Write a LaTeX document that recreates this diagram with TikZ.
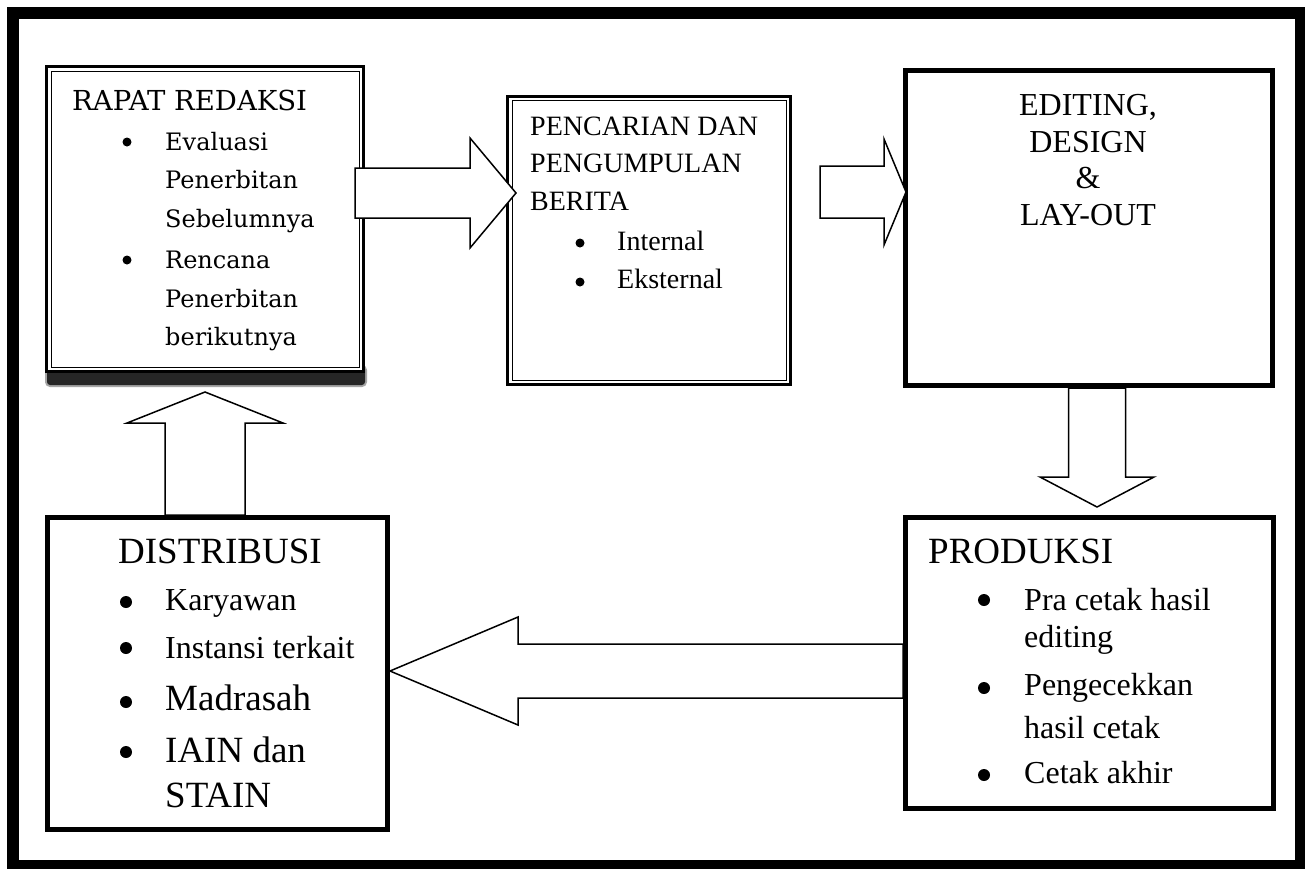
\documentclass[tikz,border=0pt]{standalone}
\usepackage{fontspec}
\setmainfont{Liberation Serif}
\newfontfamily\rapatfont{DejaVu Serif}
\usepackage{tikz}
\usetikzlibrary{calc}
\tikzset{box/.style={draw, line width=5pt, fill=white, inner sep=0pt},
         dblbox/.style={draw, line width=3pt, fill=white, inner sep=0pt},
         blockarrow/.style={draw, line width=1.5pt, fill=white, line join=miter},
         txt/.style={anchor=base west, inner sep=0pt, font=\fontsize{32}{38}\selectfont},
         bigtxt/.style={txt, font=\fontsize{37}{44}\selectfont},
         midtxt/.style={txt, font=\fontsize{28}{34}\selectfont},
         rtxt/.style={txt, font=\rapatfont\fontsize{24}{28}\selectfont},
         rtitle/.style={txt, font=\rapatfont\fontsize{27.5}{32}\selectfont}}
% #1 from, #2 to, #3 half shaft, #4 half head, #5 head length
\newcommand{\fatarrow}[5]{%
  \coordinate (fa-h) at ($(#2)!#5pt!(#1)$);
  \draw[blockarrow] ($(#1)!#3pt!90:(#2)$) -- ($(fa-h)!#3pt!90:(#2)$)
    -- ($(fa-h)!#4pt!90:(#2)$) -- (#2) -- ($(fa-h)!#4pt!-90:(#2)$)
    -- ($(fa-h)!#3pt!-90:(#2)$) -- ($(#1)!#3pt!-90:(#2)$) -- cycle;}

\begin{document}
\begin{tikzpicture}[x=1pt,y=-1pt]
\useasboundingbox (0,0) rectangle (1305,868);
\fill[white] (0,0) rectangle (1305,868);
\draw[line width=12pt] (13,13) rectangle (1301,866);

% shadow under rapat redaksi
\draw[black!35, line width=2pt, rounded corners=4pt] (46,366) rectangle (366,386);
\fill[black!85, rounded corners=3pt] (47,366) rectangle (365,385);

\node[dblbox, minimum width=317pt, minimum height=305pt] (rapat) at (205,219) {};
\draw[line width=1pt] ($(rapat.center)+(-154,-148)$) rectangle ($(rapat.center)+(154,148)$);
\node[dblbox, minimum width=283pt, minimum height=288pt] (pencarian) at (649,240.5) {};
\draw[line width=1pt] ($(pencarian.center)+(-137,-140)$) rectangle ($(pencarian.center)+(137,140)$);
\node[box, minimum width=367pt, minimum height=315pt] (editing) at (1089,228) {};
\node[box, minimum width=368pt, minimum height=291pt] (produksi) at (1089.5,663) {};
\node[box, minimum width=340pt, minimum height=312pt] (distribusi) at (217.5,673.5) {};

% block arrows
\coordinate (s1) at ($(rapat.center)+(150,-26)$);
\coordinate (e1) at ($(pencarian.center)+(-133,-47.5)$);
\coordinate (s2) at ($(pencarian.center)+(171,-48.5)$);
\coordinate (e2) at ($(editing.center)+(-183,-36)$);
\coordinate (s3) at ($(editing.center)+(8,160)$);
\coordinate (e3) at ($(produksi.center)+(7.5,-156)$);
\coordinate (s4) at ($(produksi.center)+(-186.5,8)$);
\coordinate (e4) at ($(distribusi.center)+(172.5,-2.5)$);
\coordinate (s5) at ($(distribusi.center)+(-12.5,-158.5)$);
\coordinate (e5) at ($(rapat.center)+(0,173)$);
\fatarrow{s1}{e1}{25}{55}{46}
\fatarrow{s2}{e2}{26}{53}{22}
\fatarrow{s3}{e3}{28.5}{57}{30}
\fatarrow{s4}{e4}{27}{54}{128}
\fatarrow{s5}{e5}{40}{78}{31}

% rapat redaksi
\node[rtitle] (r0) at (72,110) {RAPAT REDAKSI};
\node[rtxt] (r1) at (165,150) {Evaluasi};
\node[rtxt] (r2) at (165,188) {Penerbitan};
\node[rtxt] (r3) at (165,227) {Sebelumnya};
\node[rtxt] (r4) at (165,268) {Rencana};
\node[rtxt] (r5) at (165,307) {Penerbitan};
\node[rtxt] (r6) at (165,345) {berikutnya};
\fill (127,142) circle (4.5pt) (127,260) circle (4.5pt);

% pencarian
\node[midtxt] (p0) at (530,135) {PENCARIAN DAN};
\node[midtxt] (p1) at (530,172) {PENGUMPULAN};
\node[midtxt] (p2) at (530,210) {BERITA};
\node[midtxt] (p3) at (617,250) {Internal};
\node[midtxt] (p4) at (617,288) {Eksternal};
\fill (580,243) circle (4.5pt) (580,282) circle (4.5pt);

% editing
\node[txt, anchor=base] (e0) at (1088,115) {EDITING,};
\node[txt, anchor=base] (e1) at (1088,152) {DESIGN};
\node[txt, anchor=base] (e2) at (1088,188) {\&};
\node[txt, anchor=base] (e3) at (1088,225) {LAY-OUT};

% distribusi
\node[bigtxt] (d0) at (118,563) {DISTRIBUSI};
\node[txt] (d1) at (165,610) {Karyawan};
\node[txt] (d2) at (165,658) {Instansi terkait};
\node[bigtxt] (d3) at (165,710) {Madrasah};
\node[bigtxt] (d4) at (165,762) {IAIN dan};
\node[bigtxt] (d5) at (165,807) {STAIN};
\fill (126,602) circle (6pt) (126,648) circle (6pt) (126,702) circle (6pt) (126,752) circle (6pt);

% produksi
\node[bigtxt] (q0) at (928,563) {PRODUKSI};
\node[txt] (q1) at (1024,610) {Pra cetak hasil};
\node[txt] (q2) at (1024,647) {editing};
\node[txt] (q3) at (1024,695) {Pengecekkan};
\node[txt] (q4) at (1024,738) {hasil cetak};
\node[txt] (q5) at (1024,783) {Cetak akhir};
\fill (984,600) circle (6pt) (984,688) circle (6pt) (984,775) circle (6pt);
\end{tikzpicture}
\end{document}
